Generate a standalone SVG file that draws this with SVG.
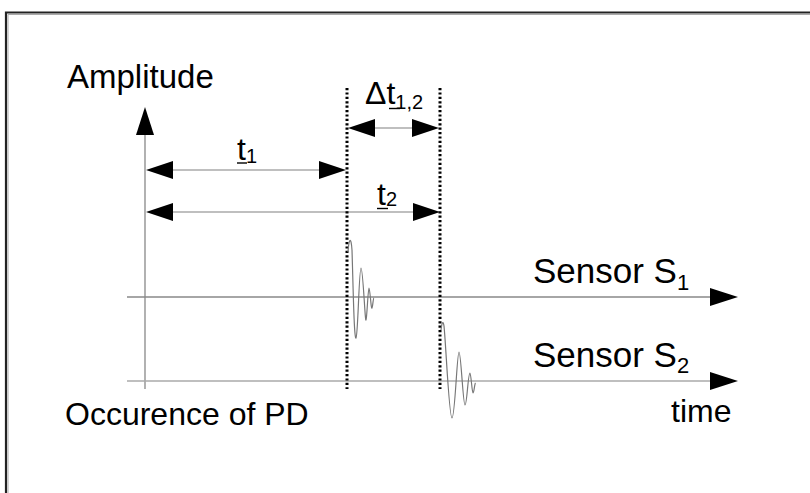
<svg xmlns="http://www.w3.org/2000/svg" width="810" height="493" viewBox="0 0 810 493">
<style>
text{font-family:"Liberation Sans",Arial,sans-serif;fill:#000}
.lbl{font-size:32px}
.big{font-size:35px}
.sub{font-size:20px}
.sub2{font-size:22px}
.ax{stroke:#888;stroke-width:1.3;fill:none}
.dim{stroke:#aaa;stroke-width:1.3;fill:none}
.dot{stroke:#000;stroke-width:3;stroke-dasharray:2.2 2.2;fill:none}
.wave{stroke:#777;stroke-width:1.2;fill:none}
.ah{fill:#000}
.ul{stroke:#000;stroke-width:1.4}
</style>
<rect width="810" height="493" fill="#fff"/>
<path d="M6 493 V12.5 H810" stroke="#222" stroke-width="2.2" fill="none"/>
<path d="M8 493 V14.5 H810" stroke="#aaa" stroke-width="1" fill="none"/>

<g id="connectors">
  <!-- amplitude axis -->
  <line class="ax" x1="145" y1="133" x2="145" y2="389"/>
  <polygon class="ah" points="145,107 136,135 154,135"/>
  <!-- sensor axes -->
  <line class="ax" x1="127" y1="297" x2="712" y2="297"/>
  <polygon class="ah" points="738,297 710,288 710,306"/>
  <line class="dim" x1="127" y1="381" x2="712" y2="381"/>
  <polygon class="ah" points="738,381 710,372 710,390"/>
  <!-- t1 -->
  <line class="dim" x1="170" y1="170" x2="322" y2="170"/>
  <polygon class="ah" points="146,170 173,161 173,179"/>
  <polygon class="ah" points="346,170 319,161 319,179"/>
  <!-- t2 -->
  <line class="dim" x1="170" y1="212" x2="416" y2="212"/>
  <polygon class="ah" points="146,212 173,203 173,221"/>
  <polygon class="ah" points="440,212 413,203 413,221"/>
  <!-- delta t -->
  <line class="dim" x1="372" y1="128" x2="415" y2="128"/>
  <polygon class="ah" points="348,128 375,119 375,137"/>
  <polygon class="ah" points="439,128 412,119 412,137"/>
  <!-- dotted markers -->
  <line class="dot" x1="347" y1="88" x2="347" y2="389"/>
  <line class="dot" x1="440" y1="88" x2="440" y2="389"/>
</g>

<g id="wave1">
  <path class="wave" d="M348 252 C349 238 351 236 352 250 C353 280 354 340 356 338 C358 336 359 268 361 268 C363 268 365 322 366 320 C367 318 368 288 369 288 C370 288 371 310 372 308 C373 306 373 298 374 298"/>
</g>
<g id="wave2">
  <path class="wave" d="M441 330 C442 322 443 320 444 326 C446 345 449 418 452 418 C455 418 457 352 459 352 C461 352 463 405 465 405 C467 405 468 373 470 373 C471 373 472 393 473 393 C474 393 474.5 384 475.5 383"/>
</g>

<g id="labels">
  <text class="lbl" x="67" y="88" style="font-size:33px">Amplitude</text>
  <text class="lbl" x="365" y="104">Δt<tspan class="sub" dy="5">1,2</tspan></text>
  <line class="ul" x1="389" y1="108.5" x2="400" y2="108.5"/>
  <text class="lbl" x="237" y="160">t<tspan class="sub" dy="3">1</tspan></text>
  <line class="ul" x1="237" y1="163" x2="247" y2="163"/>
  <text class="lbl" x="377" y="205">t<tspan class="sub" dy="1">2</tspan></text>
  <line class="ul" x1="377" y1="208.5" x2="388" y2="208.5"/>
  <text class="big" x="533" y="283">Sensor S<tspan class="sub2" dy="7">1</tspan></text>
  <text class="big" x="533" y="367">Sensor S<tspan class="sub2" dy="6">2</tspan></text>
  <text class="lbl" x="671" y="422">time</text>
  <text class="lbl" x="65" y="425">Occurence of PD</text>
</g>
</svg>
